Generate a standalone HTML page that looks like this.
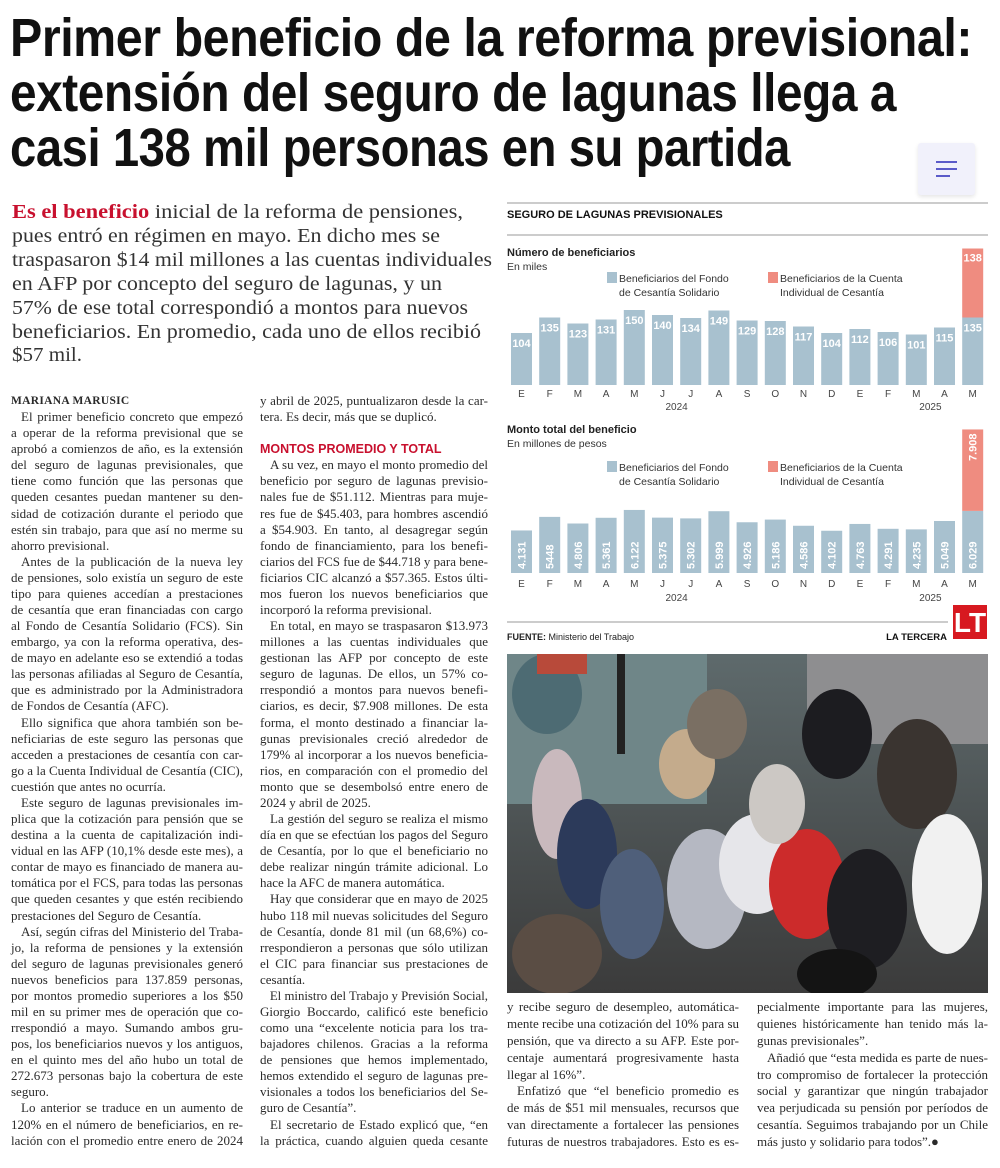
<!DOCTYPE html>
<html><head><meta charset="utf-8">
<style>
*{margin:0;padding:0;box-sizing:border-box}
body{width:1000px;height:1168px;background:#fff;position:relative;overflow:hidden;font-family:"Liberation Serif",serif;color:#222}
.abs{position:absolute}
.hl{position:absolute;left:10px;font-family:"Liberation Sans Narrow","Liberation Sans",sans-serif;font-weight:700;font-size:54px;line-height:56px;color:#111;white-space:nowrap;transform-origin:left center;letter-spacing:-0.5px}
.lede{position:absolute;left:12px;font-family:"Liberation Serif",serif;font-size:20px;line-height:24px;color:#333;white-space:nowrap;transform-origin:left center}
.lede b{color:#c8102e}
.col{position:absolute}
.ln{height:16.09px;line-height:16.09px;font-size:13px;white-space:nowrap;color:#2a2a2a;text-align:justify;text-align-last:justify;transform-origin:left center}
.ln.e{text-align-last:left}
.ln.i{text-indent:10px}
.ln.h{font-family:"Liberation Sans Narrow","Liberation Sans",sans-serif;font-weight:700;color:#c8102e;font-size:12.5px;text-align-last:left}
.ln.a{font-weight:700;font-size:11.5px;text-align-last:left;letter-spacing:0.3px}
.c3 .ln{height:16.9px;line-height:16.9px}
</style></head><body>

<div class="hl" data-w="962" style="top:10px">Primer beneficio de la reforma previsional:</div>
<div class="hl" data-w="886" style="top:65px">extensión del seguro de lagunas llega a</div>
<div class="hl" data-w="780" style="top:120px">casi 138 mil personas en su partida</div>

<div class="abs" style="left:918px;top:143px;width:57px;height:52px;background:#f1f1fb;border-radius:3px;box-shadow:0 2px 4px rgba(0,0,0,0.1)">
  <div style="position:absolute;left:18px;top:18px;width:21px;height:2px;background:#5b5bc9"></div>
  <div style="position:absolute;left:18px;top:25px;width:21px;height:2px;background:#5b5bc9"></div>
  <div style="position:absolute;left:18px;top:32px;width:14px;height:2px;background:#5b5bc9"></div>
</div>

<div>
<div class="lede" data-w="451" style="top:200px"><b>Es el beneficio</b> inicial de la reforma de pensiones,</div>
<div class="lede" data-w="428" style="top:224px">pues entró en régimen en mayo. En dicho mes se</div>
<div class="lede" data-w="480" style="top:248px">traspasaron $14 mil millones a las cuentas individuales</div>
<div class="lede" data-w="430" style="top:272px">en AFP por concepto del seguro de lagunas, y un</div>
<div class="lede" data-w="456" style="top:296px">57% de ese total correspondió a montos para nuevos</div>
<div class="lede" data-w="469" style="top:320px">beneficiarios. En promedio, cada uno de ellos recibió</div>
<div class="lede" data-w="70" style="top:343px">$57 mil.</div>
</div>

<div class="col" style="left:11px;top:393px;width:232px">
<div class="ln a">MARIANA MARUSIC</div>
<div class="ln i">El primer beneficio concreto que empezó</div>
<div class="ln">a operar de la reforma previsional que se</div>
<div class="ln">aprobó a comienzos de año, es la extensión</div>
<div class="ln">del seguro de lagunas previsionales, que</div>
<div class="ln">tiene como función que las personas que</div>
<div class="ln">queden cesantes puedan mantener su den-</div>
<div class="ln">sidad de cotización durante el periodo que</div>
<div class="ln">estén sin trabajo, para que así no merme su</div>
<div class="ln e">ahorro previsional.</div>
<div class="ln i">Antes de la publicación de la nueva ley</div>
<div class="ln">de pensiones, solo existía un seguro de este</div>
<div class="ln">tipo para quienes accedían a prestaciones</div>
<div class="ln">de cesantía que eran financiadas con cargo</div>
<div class="ln">al Fondo de Cesantía Solidario (FCS). Sin</div>
<div class="ln">embargo, ya con la reforma operativa, des-</div>
<div class="ln">de mayo en adelante eso se extendió a todas</div>
<div class="ln">las personas afiliadas al Seguro de Cesantía,</div>
<div class="ln">que es administrado por la Administradora</div>
<div class="ln e">de Fondos de Cesantía (AFC).</div>
<div class="ln i">Ello significa que ahora también son be-</div>
<div class="ln">neficiarias de este seguro las personas que</div>
<div class="ln">acceden a prestaciones de cesantía con car-</div>
<div class="ln">go a la Cuenta Individual de Cesantía (CIC),</div>
<div class="ln e">cuestión que antes no ocurría.</div>
<div class="ln i">Este seguro de lagunas previsionales im-</div>
<div class="ln">plica que la cotización para pensión que se</div>
<div class="ln">destina a la cuenta de capitalización indi-</div>
<div class="ln">vidual en las AFP (10,1% desde este mes), a</div>
<div class="ln">contar de mayo es financiado de manera au-</div>
<div class="ln">tomática por el FCS, para todas las personas</div>
<div class="ln">que queden cesantes y que estén recibiendo</div>
<div class="ln e">prestaciones del Seguro de Cesantía.</div>
<div class="ln i">Así, según cifras del Ministerio del Traba-</div>
<div class="ln">jo, la reforma de pensiones y la extensión</div>
<div class="ln">del seguro de lagunas previsionales generó</div>
<div class="ln">nuevos beneficios para 137.859 personas,</div>
<div class="ln">por montos promedio superiores a los $50</div>
<div class="ln">mil en su primer mes de operación que co-</div>
<div class="ln">rrespondió a mayo. Sumando ambos gru-</div>
<div class="ln">pos, los beneficiarios nuevos y los antiguos,</div>
<div class="ln">en el quinto mes del año hubo un total de</div>
<div class="ln">272.673 personas bajo la cobertura de este</div>
<div class="ln e">seguro.</div>
<div class="ln i">Lo anterior se traduce en un aumento de</div>
<div class="ln">120% en el número de beneficiarios, en re-</div>
<div class="ln">lación con el promedio entre enero de 2024</div>
</div>

<div class="col" style="left:260px;top:393px;width:228px">
<div class="ln">y abril de 2025, puntualizaron desde la car-</div>
<div class="ln e">tera. Es decir, más que se duplicó.</div>
<div class="ln e">&nbsp;</div>
<div class="ln h">MONTOS PROMEDIO Y TOTAL</div>
<div class="ln i">A su vez, en mayo el monto promedio del</div>
<div class="ln">beneficio por seguro de lagunas previsio-</div>
<div class="ln">nales fue de $51.112. Mientras para muje-</div>
<div class="ln">res fue de $45.403, para hombres ascendió</div>
<div class="ln">a $54.903. En tanto, al desagregar según</div>
<div class="ln">fondo de financiamiento, para los benefi-</div>
<div class="ln">ciarios del FCS fue de $44.718 y para bene-</div>
<div class="ln">ficiarios CIC alcanzó a $57.365. Estos últi-</div>
<div class="ln">mos fueron los nuevos beneficiarios que</div>
<div class="ln e">incorporó la reforma previsional.</div>
<div class="ln i">En total, en mayo se traspasaron $13.973</div>
<div class="ln">millones a las cuentas individuales que</div>
<div class="ln">gestionan las AFP por concepto de este</div>
<div class="ln">seguro de lagunas. De ellos, un 57% co-</div>
<div class="ln">rrespondió a montos para nuevos benefi-</div>
<div class="ln">ciarios, es decir, $7.908 millones. De esta</div>
<div class="ln">forma, el monto destinado a financiar la-</div>
<div class="ln">gunas previsionales creció alrededor de</div>
<div class="ln">179% al incorporar a los nuevos beneficia-</div>
<div class="ln">rios, en comparación con el promedio del</div>
<div class="ln">monto que se desembolsó entre enero de</div>
<div class="ln e">2024 y abril de 2025.</div>
<div class="ln i">La gestión del seguro se realiza el mismo</div>
<div class="ln">día en que se efectúan los pagos del Seguro</div>
<div class="ln">de Cesantía, por lo que el beneficiario no</div>
<div class="ln">debe realizar ningún trámite adicional. Lo</div>
<div class="ln e">hace la AFC de manera automática.</div>
<div class="ln i">Hay que considerar que en mayo de 2025</div>
<div class="ln">hubo 118 mil nuevas solicitudes del Seguro</div>
<div class="ln">de Cesantía, donde 81 mil (un 68,6%) co-</div>
<div class="ln">rrespondieron a personas que sólo utilizan</div>
<div class="ln">el CIC para financiar sus prestaciones de</div>
<div class="ln e">cesantía.</div>
<div class="ln i">El ministro del Trabajo y Previsión Social,</div>
<div class="ln">Giorgio Boccardo, calificó este beneficio</div>
<div class="ln">como una “excelente noticia para los tra-</div>
<div class="ln">bajadores chilenos. Gracias a la reforma</div>
<div class="ln">de pensiones que hemos implementado,</div>
<div class="ln">hemos extendido el seguro de lagunas pre-</div>
<div class="ln">visionales a todos los beneficiarios del Se-</div>
<div class="ln e">guro de Cesantía”.</div>
<div class="ln i">El secretario de Estado explicó que, “en</div>
<div class="ln">la práctica, cuando alguien queda cesante</div>
</div>

<div class="col c3" style="left:507px;top:999px;width:232px">
<div class="ln">y recibe seguro de desempleo, automática-</div>
<div class="ln">mente recibe una cotización del 10% para su</div>
<div class="ln">pensión, que va directo a su AFP. Este por-</div>
<div class="ln">centaje aumentará progresivamente hasta</div>
<div class="ln e">llegar al 16%”.</div>
<div class="ln i">Enfatizó que “el beneficio promedio es</div>
<div class="ln">de más de $51 mil mensuales, recursos que</div>
<div class="ln">van directamente a fortalecer las pensiones</div>
<div class="ln">futuras de nuestros trabajadores. Esto es es-</div>
</div>
<div class="col c3" style="left:757px;top:999px;width:231px">
<div class="ln">pecialmente importante para las mujeres,</div>
<div class="ln">quienes históricamente han tenido más la-</div>
<div class="ln e">gunas previsionales”.</div>
<div class="ln i">Añadió que “esta medida es parte de nues-</div>
<div class="ln">tro compromiso de fortalecer la protección</div>
<div class="ln">social y garantizar que ningún trabajador</div>
<div class="ln">vea perjudicada su pensión por períodos de</div>
<div class="ln">cesantía. Seguimos trabajando por un Chile</div>
<div class="ln e">más justo y solidario para todos”.●</div>
</div>

<!-- photo -->
<svg class="abs" style="left:507px;top:654px" width="481" height="339" viewBox="0 0 481 339">
  <defs><linearGradient id="pg" x1="0" y1="0" x2="0" y2="1"><stop offset="0" stop-color="#5e6a6c"/><stop offset="1" stop-color="#3b3b3b"/></linearGradient></defs>
  <rect width="481" height="339" fill="url(#pg)"/>
  <rect x="0" y="0" width="200" height="150" fill="#6f8688"/>
  <rect x="300" y="0" width="181" height="90" fill="#8e8e90"/>
  <ellipse cx="40" cy="40" rx="35" ry="40" fill="#4d6b73"/>
  <rect x="30" y="0" width="50" height="20" fill="#b84a3a"/>
  <rect x="110" y="0" width="8" height="100" fill="#222"/>
  <ellipse cx="50" cy="150" rx="25" ry="55" fill="#c9b9bd"/>
  <ellipse cx="80" cy="200" rx="30" ry="55" fill="#2c3a5a"/>
  <ellipse cx="125" cy="250" rx="32" ry="55" fill="#4f5f7a"/>
  <ellipse cx="200" cy="235" rx="40" ry="60" fill="#b5b8c2"/>
  <ellipse cx="250" cy="210" rx="38" ry="50" fill="#e6e6ea"/>
  <ellipse cx="300" cy="230" rx="38" ry="55" fill="#cc2b2b"/>
  <ellipse cx="360" cy="255" rx="40" ry="60" fill="#1e1e22"/>
  <ellipse cx="270" cy="150" rx="28" ry="40" fill="#ccc8c4"/>
  <ellipse cx="180" cy="110" rx="28" ry="35" fill="#c4ab8c"/>
  <ellipse cx="410" cy="120" rx="40" ry="55" fill="#3a3430"/>
  <ellipse cx="440" cy="230" rx="35" ry="70" fill="#f1f1f1"/>
  <ellipse cx="210" cy="70" rx="30" ry="35" fill="#7a6f63"/>
  <ellipse cx="330" cy="80" rx="35" ry="45" fill="#1c1c20"/>
  <ellipse cx="50" cy="300" rx="45" ry="40" fill="#5a4d44"/>
  <ellipse cx="330" cy="320" rx="40" ry="25" fill="#141414"/>
</svg>

<!-- chart -->
<svg id="chart" class="abs" style="left:500px;top:195px;font-family:'Liberation Sans Narrow','Liberation Sans',sans-serif" width="500" height="460" viewBox="0 0 500 460">
  <line x1="7" y1="8" x2="488" y2="8" stroke="#999" stroke-width="1"/>
  <text x="7" y="23" font-size="11" font-weight="700" fill="#111">SEGURO DE LAGUNAS PREVISIONALES</text>
  <line x1="7" y1="40" x2="488" y2="40" stroke="#999" stroke-width="1"/>
  <text x="7" y="61" font-size="11" font-weight="700" fill="#222">Número de beneficiarios</text>
  <text x="7" y="75" font-size="10.5" fill="#333">En miles</text>
  <text x="7" y="238" font-size="11" font-weight="700" fill="#222">Monto total del beneficio</text>
  <text x="7" y="252" font-size="10.5" fill="#333">En millones de pesos</text>
  <g id="g1"></g><g id="g2"></g>
  <line x1="7" y1="427" x2="448" y2="427" stroke="#999" stroke-width="1"/>
  <text x="7" y="445" font-size="9" fill="#222"><tspan font-weight="700">FUENTE:</tspan> Ministerio del Trabajo</text>
  <text x="447" y="445" font-size="9.5" font-weight="700" fill="#111" text-anchor="end">LA TERCERA</text>
  <g>
    <rect x="453" y="410" width="34" height="34" fill="#d71920"/>
    <text x="470" y="437" font-size="28" font-weight="700" fill="#fff" text-anchor="middle" font-family="Liberation Sans Narrow, Liberation Sans, sans-serif">LT</text>
  </g>
</svg>

<script>
const months = ["E","F","M","A","M","J","J","A","S","O","N","D","E","F","M","A","M"];
const years = ["2024","2025"];
const benefFCS = [104,135,123,131,150,140,134,149,129,128,117,104,112,106,101,115,135];
const benefCIC = [0,0,0,0,0,0,0,0,0,0,0,0,0,0,0,0,138];
const montoFCS = [4131,5448,4806,5361,6122,5375,5302,5999,4926,5186,4586,4102,4763,4291,4235,5049,6029];
const montoCIC = [0,0,0,0,0,0,0,0,0,0,0,0,0,0,0,0,7908];
const montoLabelsFCS = ["4.131","5448","4.806","5.361","6.122","5.375","5.302","5.999","4.926","5.186","4.586","4.102","4.763","4.291","4.235","5.049","6.029"];
const montoLabelsCIC = ["","","","","","","","","","","","","","","","","7.908"];
const legendLabels = [["Beneficiarios del Fondo","de Cesantía Solidario"],["Beneficiarios de la Cuenta","Individual de Cesantía"]];

const NS="http://www.w3.org/2000/svg";
const BLUE="#a8c1cf", RED="#ef8c80";
function mk(tag,attrs,parent){const e=document.createElementNS(NS,tag);for(const k in attrs)e.setAttribute(k,attrs[k]);parent.appendChild(e);return e;}
const xBand = i => 11 + i*28.2;
const BW = 21;
const y1 = v => 190 - v*0.5;
const y2 = v => 378 - v*0.0103;

function legend(g, ly){
  [BLUE,RED].forEach((c,k)=>{
    const lx = k===0?107:268;
    const sq = mk("rect",{x:lx,y:ly-10,width:10,height:11,fill:c},g);
    
    
    legendLabels[k].forEach((t,j)=>{
      const tx = mk("text",{x:lx+12,y:ly+j*14,"font-size":10.5,fill:"#333"},g);
      tx.textContent=t;
      
      
    });
  });
}
function axis(g, yM, yY){
  months.forEach((m,i)=>{
    const t=mk("text",{x:xBand(i)+BW/2,y:yM,"font-size":10,fill:"#444","text-anchor":"middle"},g);
    t.textContent=m;
    
    
  });
  [[5.5,years[0]],[14.5,years[1]]].forEach(([p,yv])=>{
    const t=mk("text",{x:xBand(p)+BW/2,y:yY,"font-size":10,fill:"#444","text-anchor":"middle"},g);
    t.textContent=yv;
    
    
  });
}
// chart 1
const g1=document.getElementById("g1");
legend(g1,87);
benefFCS.forEach((v,i)=>{
  const x=xBand(i);
  const r=mk("rect",{x:x,y:y1(v),width:BW,height:190-y1(v),fill:BLUE},g1);
  
  
  const t=mk("text",{x:x+BW/2,y:y1(v)+14,"font-size":11,"font-weight":700,fill:"#fff","text-anchor":"middle"},g1);
  t.textContent=v;
  
  
  const c=benefCIC[i];
  if(c>0){
    const top=y1(v+c);
    const r2=mk("rect",{x:x,y:top,width:BW,height:y1(v)-top,fill:RED},g1);
    
    
    const t2=mk("text",{x:x+BW/2,y:top+13,"font-size":11,"font-weight":700,fill:"#fff","text-anchor":"middle"},g1);
    t2.textContent=c;
    
    
  }
});
axis(g1,202,215);
// chart 2
const g2=document.getElementById("g2");
legend(g2,276);
montoFCS.forEach((v,i)=>{
  const x=xBand(i);
  const r=mk("rect",{x:x,y:y2(v),width:BW,height:378-y2(v),fill:BLUE},g2);
  
  
  const cx=x+BW/2+4;
  const t=mk("text",{x:cx,y:374,"font-size":11,"font-weight":700,fill:"#fff",transform:`rotate(-90 ${cx} 374)`},g2);
  t.textContent=montoLabelsFCS[i];
  
  
  const c=montoCIC[i];
  if(c>0){
    const top=y2(v+c);
    const r2=mk("rect",{x:x,y:top,width:BW,height:y2(v)-top,fill:RED},g2);
    
    
    const t2=mk("text",{x:cx,y:top+4,"font-size":11,"font-weight":700,fill:"#fff","text-anchor":"end",transform:`rotate(-90 ${cx} ${top+4})`},g2);
    t2.textContent=montoLabelsCIC[i];
    
    
  }
});
axis(g2,392,406);

// fit headline and lede lines to widths
document.querySelectorAll(".hl,.lede").forEach(el=>{
  const w=+el.dataset.w;
  el.style.display="inline-block";
  const nw=el.getBoundingClientRect().width;
  if(nw>0) el.style.transform=`scaleX(${w/nw})`;
});
// compress overflowing body lines
document.querySelectorAll(".ln").forEach(el=>{
  const W=el.parentElement.clientWidth;
  const s=document.createElement("span");
  s.style.whiteSpace="nowrap";
  while(el.firstChild) s.appendChild(el.firstChild);
  el.appendChild(s);
  const nw=s.getBoundingClientRect().width + (el.classList.contains("i")?10:0);
  if(nw>W){
    const k=W/nw;
    el.style.width=(W/k)+"px";
    el.style.transform=`scaleX(${k})`;
  } else {
    el.style.width=W+"px";
  }
  // unwrap for justification
  while(s.firstChild) el.insertBefore(s.firstChild,s);
  el.removeChild(s);
});
</script>
</body></html>
